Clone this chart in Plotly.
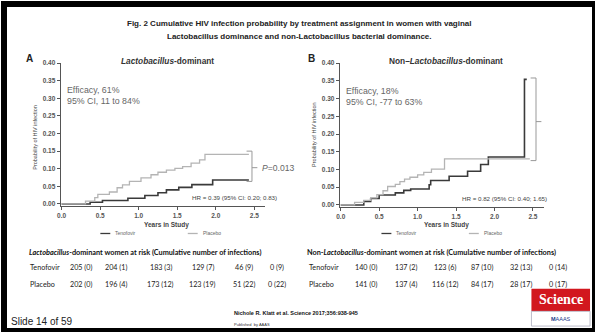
import plotly.graph_objects as go

# ---------------- data ----------------
years_ticks = [0.0, 0.5, 1.0, 1.5, 2.0, 2.5]
prob_ticks = [0.00, 0.05, 0.10, 0.15, 0.20, 0.25, 0.30, 0.35, 0.40]

# Panel A: Lactobacillus-dominant (step times in years, cumulative probability)
a_tenofovir_t = [0, 0.37, 0.53, 0.86, 1.08, 1.25, 1.36, 1.52, 1.69, 1.96, 2.43]
a_tenofovir_p = [0, 0.005, 0.010, 0.016, 0.024, 0.032, 0.040, 0.047, 0.055, 0.068, 0.068]
a_placebo_t = [0, 0.31, 0.43, 0.47, 0.62, 0.72, 0.79, 0.88, 1.03, 1.16, 1.25, 1.36, 1.47, 1.57, 1.68, 1.79, 1.86, 2.43]
a_placebo_p = [0, 0.008, 0.018, 0.027, 0.034, 0.046, 0.054, 0.064, 0.074, 0.083, 0.090, 0.096, 0.101, 0.106, 0.116, 0.125, 0.141, 0.141]

# Panel B: Non-Lactobacillus-dominant
b_tenofovir_t = [0, 0.30, 0.39, 0.50, 0.71, 0.82, 0.91, 1.15, 1.17, 1.41, 1.65, 1.82, 1.92, 2.39, 2.42]
b_tenofovir_p = [0, 0.010, 0.018, 0.028, 0.034, 0.041, 0.045, 0.057, 0.069, 0.081, 0.095, 0.114, 0.135, 0.354, 0.354]
b_placebo_t = [0, 0.18, 0.30, 0.39, 0.47, 0.55, 0.61, 0.71, 0.77, 0.83, 0.90, 1.00, 1.08, 1.18, 1.35, 2.46]
b_placebo_p = [0, 0.007, 0.013, 0.020, 0.029, 0.040, 0.052, 0.058, 0.066, 0.073, 0.078, 0.085, 0.092, 0.101, 0.130, 0.130]

# at-risk tables
a_ten_risk = [205, 204, 183, 129, 46, 0]
a_ten_cum = [0, 1, 3, 7, 9, 9]
a_pla_risk = [202, 196, 173, 123, 51, 0]
a_pla_cum = [0, 4, 12, 19, 22, 22]
b_ten_risk = [140, 137, 123, 87, 32, 0]
b_ten_cum = [0, 2, 6, 10, 13, 14]
b_pla_risk = [141, 137, 116, 84, 28, 0]
b_pla_cum = [0, 4, 12, 17, 17, 17]

a_stats = {"eff": "Efficacy, 61%", "ci": "95% CI, 11 to 84%", "p": "0.013",
           "hr": "HR = 0.39 (95% CI: 0.20; 0.83)"}
b_stats = {"eff": "Efficacy, 18%", "ci": "95% CI, -77 to 63%", "p": "0.644",
           "hr": "HR = 0.82 (95% CI: 0.40; 1.65)"}

# ---------------- layout helpers ----------------
W, H = 595, 332
def px(x):
    return x / W
def py(y):
    return 1 - y / H

DARK = "#3a3a3a"
LIGHT = "#b4b4b4"
AX = "#555555"
ARIAL = "Liberation Sans"
CAL = "Lato"

fig = go.Figure()
fig.add_trace(go.Scatter(x=a_tenofovir_t, y=a_tenofovir_p, mode="lines", line=dict(color=DARK, width=1.6, shape="hv"),
                         xaxis="x", yaxis="y", showlegend=False))
fig.add_trace(go.Scatter(x=a_placebo_t, y=a_placebo_p, mode="lines", line=dict(color=LIGHT, width=1.3, shape="hv"),
                         xaxis="x", yaxis="y", showlegend=False))
fig.add_trace(go.Scatter(x=b_tenofovir_t, y=b_tenofovir_p, mode="lines", line=dict(color=DARK, width=1.6, shape="hv"),
                         xaxis="x2", yaxis="y2", showlegend=False))
fig.add_trace(go.Scatter(x=b_placebo_t, y=b_placebo_p, mode="lines", line=dict(color=LIGHT, width=1.3, shape="hv"),
                         xaxis="x2", yaxis="y2", showlegend=False))

def xax(domain):
    return dict(domain=domain, range=[-0.013, 2.642], tickvals=years_ticks,
                ticktext=[f"{v:.1f}" for v in years_ticks], showgrid=False, zeroline=False,
                showline=True, linecolor=AX, linewidth=1, ticks="outside", ticklen=3, tickcolor=AX,
                tickfont=dict(family=ARIAL, size=6.5, color=AX, weight="bold"), fixedrange=True)

def yax(domain, anchor):
    return dict(domain=domain, range=[-0.005, 0.40], tickvals=prob_ticks,
                ticktext=[f"{v:.2f}" for v in prob_ticks], showgrid=False, zeroline=False,
                showline=True, linecolor=AX, linewidth=1, ticks="outside", ticklen=3, tickcolor=AX,
                tickfont=dict(family=ARIAL, size=6.5, color=AX, weight="bold"), anchor=anchor, fixedrange=True)

fig.update_layout(
    width=W, height=H, margin=dict(l=0, r=0, t=0, b=0),
    paper_bgcolor="white", plot_bgcolor="white", showlegend=False,
    xaxis=xax([px(57), px(263)]) | dict(anchor="y"),
    yaxis=yax([py(204.8), py(60)], "x"),
    xaxis2=xax([px(338), px(543.5)]) | dict(anchor="y2"),
    yaxis2=yax([py(205.8), py(60)], "x2"),
)

ann = []
shapes = []

def txt(x, y, text, size, color="#222", family=ARIAL, xanchor="center", yanchor="middle", xref="paper", yref="paper", angle=0, align="left"):
    ann.append(dict(x=x, y=y, xref=xref, yref=yref, text=text, showarrow=False, xanchor=xanchor, yanchor=yanchor,
                    font=dict(family=family, size=size, color=color), textangle=angle, align=align))

# main title
txt(px(298), py(20), "<b>Fig. 2 Cumulative HIV infection probability by treatment assignment in women with vaginal</b>", 8)
txt(px(298), py(33), "<b>Lactobacillus dominance and non-Lactobacillus bacterial dominance.</b>", 8)

# panel letters and titles
txt(px(20), py(55), "<b>A</b>", 10, xanchor="left")
txt(px(304), py(55), "<b>B</b>", 10, xanchor="left")
txt(px(165), py(58), "<b><i>Lactobacillus</i>-dominant</b>", 8.3, color="#333")
txt(px(445), py(58), "<b>Non\u2013<i>Lactobacillus</i>-dominant</b>", 8.3, color="#333")

# y axis titles
txt(px(31), py(135), "Probability of HIV infection", 5.5, color="#444", angle=-90)
txt(px(312), py(132), "Probability of HIV infection", 5.5, color="#444", angle=-90)

# x axis titles
txt(px(164), py(224), "<b>Years in Study</b>", 6.5, color="#444")
txt(px(445), py(224), "<b>Years in Study</b>", 6.5, color="#444")

# legends
for (lx, name, col) in [(97, "Tenofovir", DARK), (185, "Placebo", LIGHT), (380, "Tenofovir", DARK), (468, "Placebo", LIGHT)]:
    shapes.append(dict(type="line", xref="paper", yref="paper", x0=px(lx), x1=px(lx + 10), y0=py(233), y1=py(233),
                       line=dict(color=col, width=1.3)))
    txt(px(lx + 13), py(233), name, 5, color="#666", xanchor="left")

# efficacy text, HR, brackets, P values
for (xa, ya, st, top, bot, mid, bx, tx) in [("x", "y", a_stats, 0.150, 0.064, 0.103, 2.47, 2.58),
                                            ("x2", "y2", b_stats, 0.358, 0.125, 0.235, 2.54, 2.66)]:
    txt(0.04, 0.307, st["eff"] + "<br>" + st["ci"], 8.8, color="#666", xanchor="left", xref=xa, yref=ya)
    hx = 1.66 if xa == "x" else 1.55
    txt(hx, 0.017, st["hr"], 6.2, color="#444", xanchor="left", xref=xa, yref=ya)
    for (x0, y0, x1, y1) in [(bx - 0.07, top, bx, top), (bx, top, bx, bot), (bx - 0.07, bot, bx, bot), (bx, mid, bx + 0.07, mid)]:
        shapes.append(dict(type="line", xref=xa, yref=ya, x0=x0, y0=y0, x1=x1, y1=y1, line=dict(color="#999", width=1)))
    txt(tx, mid, "<i>P</i>=" + st["p"], 8.6, color="#666", xanchor="left", xref=xa, yref=ya)

# at-risk tables
txt(px(23), py(252), "<b><i>Lactobacillus</i>-dominant women at risk (Cumulative number of infections)</b>", 7.3,
    color="#111", family=CAL, xanchor="left")
txt(px(303), py(252), "<b>Non-<i>Lactobacillus</i>-dominant women at risk (Cumulative number of infections)</b>", 7.3,
    color="#111", family=CAL, xanchor="left")
a_cols = [78, 113, 158, 200, 242, 275]
b_cols = [364, 405, 444, 481, 520, 558]
for (x0, cols, rows) in [(24, a_cols, [("Tenofovir", a_ten_risk, a_ten_cum), ("Placebo", a_pla_risk, a_pla_cum)]),
                         (305, b_cols, [("Tenofovir", b_ten_risk, b_ten_cum), ("Placebo", b_pla_risk, b_pla_cum)])]:
    for (ry, (name, risk, cum)) in zip([268, 285], rows):
        txt(px(x0), py(ry), name, 7.2, color="#222", family=CAL, xanchor="left")
        for c, r, k in zip(cols, risk, cum):
            txt(px(c), py(ry), f"{r} ({k})", 7.2, color="#222", family=CAL)

# footer
txt(px(230), py(314), "<b>Nichole R. Klatt et al. Science 2017;356:938-945</b>", 5.5, color="#111", xanchor="left")
txt(px(230), py(325), "Published  by AAAS", 4, color="#333", xanchor="left")
txt(px(5), py(322), "Slide 14 of 59", 10, color="#222", xanchor="left")

# Science logo
shapes.append(dict(type="rect", xref="paper", yref="paper", x0=px(531), x1=px(590), y0=py(312), y1=py(289),
                   fillcolor="#d2171e", line=dict(width=0)))
shapes.append(dict(type="rect", xref="paper", yref="paper", x0=px(531), x1=px(590), y0=py(327), y1=py(312),
                   fillcolor="white", line=dict(color="#aab", width=0.8)))
txt(px(560.5), py(300.5), "<b>Science</b>", 14, color="white", family="Liberation Serif")
txt(px(560.5), py(320), "<b>M</b>AAAS", 5.5, color="#1a3a8a", family=ARIAL)

# slide frame
shapes.append(dict(type="rect", xref="paper", yref="paper", x0=0, x1=1, y0=0, y1=1,
                   line=dict(color="black", width=6), fillcolor="rgba(0,0,0,0)"))

fig.update_layout(annotations=ann, shapes=shapes)
fig.write_html("out.html", config={"displayModeBar": False},
               post_script="document.body.style.margin='0';document.body.style.padding='0';")
